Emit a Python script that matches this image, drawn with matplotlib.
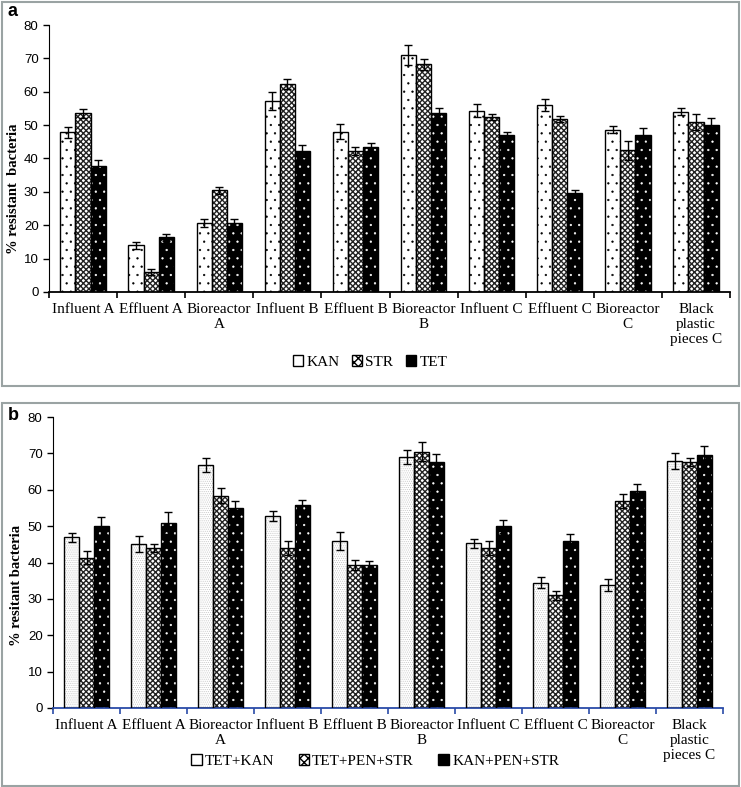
import numpy as np
import matplotlib.pyplot as plt
from matplotlib.patches import Patch, Rectangle

sites = ['Influent A', 'Effluent A', 'Bioreactor\nA', 'Influent B', 'Effluent B',
         'Bioreactor\nB', 'Influent C', 'Effluent C', 'Bioreactor\nC',
         'Black\nplastic\npieces C']

# panel a - single antibiotics
names_a = ['KAN', 'STR', 'TET']
kan = [47.8, 14.0, 20.7, 57.3, 48.0, 71.0, 54.3, 56.0, 48.6, 54.0]
kan_err = [1.6, 1.0, 1.3, 2.7, 2.3, 3.0, 2.0, 1.8, 1.1, 1.1]
strp = [53.5, 6.0, 30.5, 62.2, 42.3, 68.2, 52.4, 51.8, 42.4, 51.0]
str_err = [1.3, 0.9, 1.0, 1.5, 1.2, 1.6, 1.0, 1.0, 2.8, 2.4]
tet = [37.9, 16.4, 20.6, 42.2, 43.5, 53.7, 46.9, 29.6, 46.9, 50.0]
tet_err = [1.7, 1.0, 1.3, 1.8, 1.2, 1.5, 1.1, 1.1, 2.3, 2.0]

# panel b - combinations
names_b = ['TET+KAN', 'TET+PEN+STR', 'KAN+PEN+STR']
tk = [46.9, 45.2, 66.8, 52.8, 45.9, 69.0, 45.3, 34.5, 33.9, 67.9]
tk_err = [1.3, 2.2, 1.9, 1.4, 2.5, 1.9, 1.2, 1.4, 1.7, 2.3]
tps = [41.3, 44.1, 58.4, 44.0, 39.3, 70.4, 44.0, 31.0, 56.9, 67.6]
tps_err = [1.8, 1.1, 2.1, 2.0, 1.3, 2.6, 1.9, 1.2, 1.9, 1.2]
kps = [50.0, 50.9, 55.1, 55.7, 39.3, 67.7, 49.9, 45.9, 59.7, 69.6]
kps_err = [2.6, 3.0, 1.8, 1.5, 1.2, 2.0, 1.7, 1.8, 1.9, 2.4]

serif = ['Liberation Serif', 'DejaVu Serif']
sans = ['Liberation Sans', 'DejaVu Sans']


def draw_panel(ax, vals, errs, styles, ylabel, axis_color):
    x = np.arange(len(sites))
    w = 0.222
    for i, (v, e, st) in enumerate(zip(vals, errs, styles)):
        face, hcol, hatch, hlw = st
        pos = x + (i - 1) * w
        bars = ax.bar(pos, v, w, color=face, edgecolor=hcol, hatch=hatch, linewidth=0, zorder=2)
        for b in bars:
            if hasattr(b, 'set_hatch_linewidth'):
                b.set_hatch_linewidth(hlw)
        ax.bar(pos, v, w, fill=False, edgecolor='black', linewidth=1.0, zorder=3)
        ax.errorbar(pos, v, yerr=e, fmt='none', ecolor='black', elinewidth=1,
                    capsize=3, capthick=1, zorder=4)
    ax.set_xlim(-0.5, len(sites) - 0.5)
    ax.set_ylim(0, 80)
    ax.set_yticks(range(0, 81, 10))
    ax.set_xticks(x)
    ax.set_xticklabels(sites, family=serif, fontsize=11)
    ax.tick_params(axis='x', length=0, pad=8)
    ax.set_xticks(np.arange(-0.5, len(sites)), minor=True)
    ax.tick_params(axis='x', which='minor', length=4, color=axis_color, width=1.2)
    ax.tick_params(axis='y', labelsize=9.5, length=4, width=1)
    for t in ax.get_yticklabels():
        t.set_family(sans)
    ax.spines['top'].set_visible(False)
    ax.spines['right'].set_visible(False)
    ax.spines['bottom'].set_color(axis_color)
    ax.spines['bottom'].set_linewidth(1.3)
    ax.set_ylabel(ylabel, family=serif, fontweight='bold', fontsize=10.5)


fig = plt.figure(figsize=(7.41, 7.87), dpi=100)

# gray frames round the two panels
for y0, y1 in [(2, 386), (403, 786)]:
    fig.patches.append(Rectangle((2 / 741, 1 - y1 / 787), 737 / 741, (y1 - y0) / 787,
                                 transform=fig.transFigure, fill=False,
                                 edgecolor='#9aa3a3', linewidth=1.5))

ax1 = fig.add_axes([49 / 741, 1 - 292 / 787, 681 / 741, 267 / 787])
styles_a = [('white', 'black', '..', 0.4), ('white', '#222222', 'xxxxxx', 1.0),
            ('black', 'white', '..', 0.4)]
draw_panel(ax1, [kan, strp, tet], [kan_err, str_err, tet_err], styles_a,
           '% resistant  bacteria', 'black')
ax1.yaxis.set_label_coords(-0.043, 0.386)
h1 = [Patch(facecolor=s[0], edgecolor='black', hatch='xxxx' if 'x' in s[2] else None)
      for s in styles_a]
fig.legend(h1, names_a, loc='center', bbox_to_anchor=(370 / 741, 1 - 362 / 787),
           ncol=3, frameon=False, prop={'family': serif, 'size': 11},
           handlelength=0.7, handleheight=0.7, handletextpad=0.2, columnspacing=0.8)
fig.text(8 / 741, 1 - 12 / 787, 'a', family=sans, fontweight='bold', fontsize=13,
         va='center')

ax2 = fig.add_axes([53 / 741, 1 - 708 / 787, 670 / 741, 291 / 787])
styles_b = [('white', '#bdbdbd', '........', 0.4), ('white', '#222222', 'xxxxxx', 1.0),
            ('black', 'white', '..', 0.4)]
draw_panel(ax2, [tk, tps, kps], [tk_err, tps_err, kps_err], styles_b,
           '% resitant bacteria', '#2a4ba8')
ax2.yaxis.set_label_coords(-0.045, 0.42)
h2 = [Patch(facecolor=s[0], edgecolor='black', hatch='xxxx' if 'x' in s[2] else None)
      for s in styles_b]
fig.legend(h2, names_b, loc='center', bbox_to_anchor=(375 / 741, 1 - 761 / 787),
           ncol=3, frameon=False, prop={'family': serif, 'size': 11},
           handlelength=0.7, handleheight=0.7, handletextpad=0.2, columnspacing=1.6)
fig.text(8 / 741, 1 - 416 / 787, 'b', family=sans, fontweight='bold', fontsize=13,
         va='center')

fig.savefig('out.png', dpi=100)
